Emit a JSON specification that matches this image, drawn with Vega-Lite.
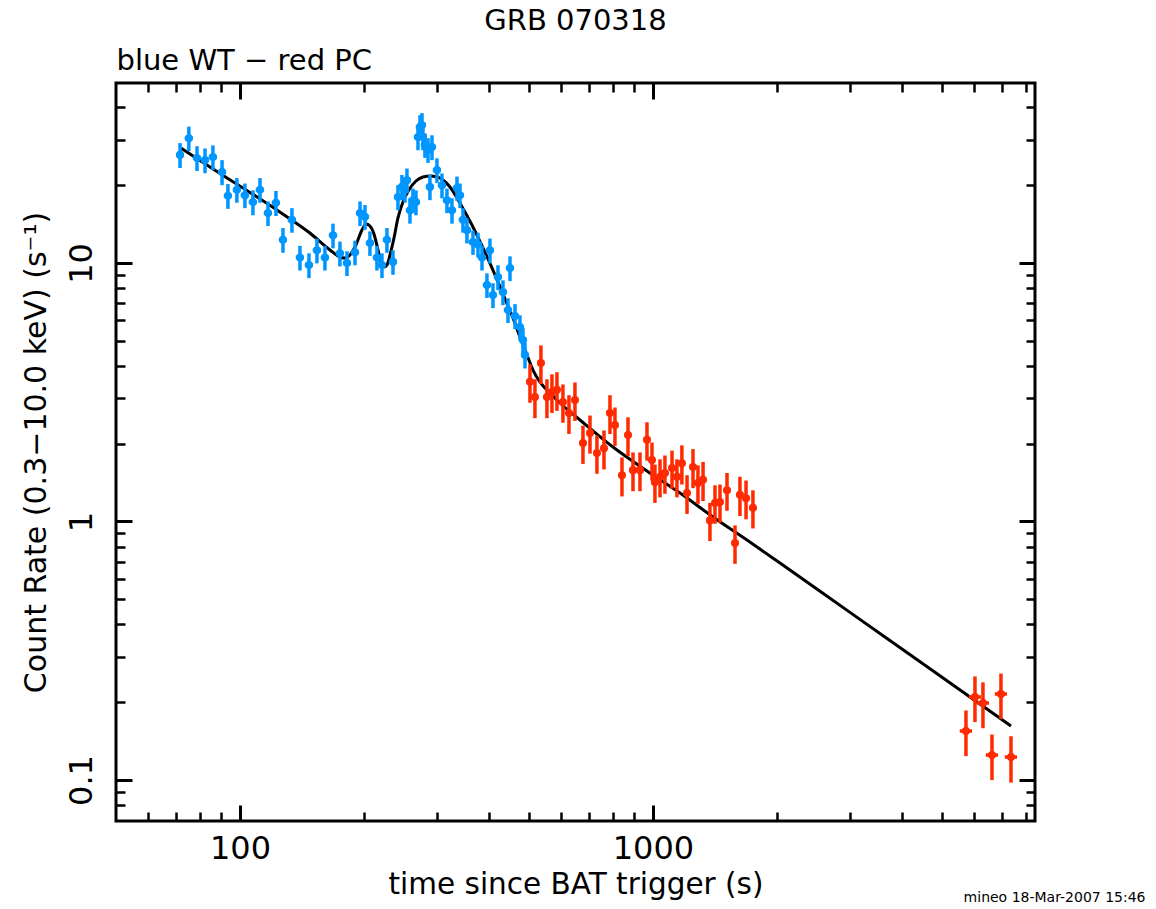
{
  "$schema": "https://vega.github.io/schema/vega-lite/v6.json",
  "width": 919,
  "height": 738,
  "autosize": "none",
  "padding": {"left": 116, "top": 83, "right": 121, "bottom": 88},
  "background": "white",
  "title": {"text": "GRB 070318", "anchor": "middle", "frame": "group", "font": "DejaVu Sans", "fontSize": 29, "fontWeight": "normal", "color": "black", "offset": 10},
  "config": {
    "view": {"stroke": "black", "strokeWidth": 3},
    "axis": {"domain": false, "grid": false, "tickColor": "black", "labelColor": "black", "titleColor": "black", "labelFont": "DejaVu Sans", "titleFont": "DejaVu Sans", "titleFontWeight": "normal", "labelFontSize": 32, "titleFontSize": 30, "labelFlush": false, "labelOverlap": false, "zindex": 1}
  },
  "datasets": {
    "obs": [
      {"mode": "WT", "t": 71.6, "te": 1.6, "r": 26.2, "re": 2.9},
      {"mode": "WT", "t": 75.2, "te": 1.7, "r": 30.4, "re": 3.3},
      {"mode": "WT", "t": 78.7, "te": 1.8, "r": 25.5, "re": 2.8},
      {"mode": "WT", "t": 82.3, "te": 1.9, "r": 25.0, "re": 2.75},
      {"mode": "WT", "t": 86.0, "te": 2.0, "r": 25.7, "re": 2.8},
      {"mode": "WT", "t": 90.5, "te": 2.1, "r": 22.5, "re": 2.5},
      {"mode": "WT", "t": 93.5, "te": 2.1, "r": 18.2, "re": 2.0},
      {"mode": "WT", "t": 98.3, "te": 2.2, "r": 19.2, "re": 2.1},
      {"mode": "WT", "t": 102.8, "te": 2.4, "r": 18.3, "re": 2.0},
      {"mode": "WT", "t": 107.5, "te": 2.5, "r": 17.2, "re": 1.9},
      {"mode": "WT", "t": 111.8, "te": 2.6, "r": 19.2, "re": 2.1},
      {"mode": "WT", "t": 116.9, "te": 2.7, "r": 15.6, "re": 1.7},
      {"mode": "WT", "t": 122.2, "te": 2.8, "r": 17.1, "re": 1.9},
      {"mode": "WT", "t": 127.1, "te": 2.9, "r": 12.3, "re": 1.35},
      {"mode": "WT", "t": 133.6, "te": 3.1, "r": 14.7, "re": 1.6},
      {"mode": "WT", "t": 139.7, "te": 3.2, "r": 10.5, "re": 1.15},
      {"mode": "WT", "t": 146.9, "te": 3.4, "r": 9.82, "re": 1.08},
      {"mode": "WT", "t": 153.6, "te": 3.5, "r": 11.2, "re": 1.23},
      {"mode": "WT", "t": 160.6, "te": 3.7, "r": 10.5, "re": 1.15},
      {"mode": "WT", "t": 168.0, "te": 3.9, "r": 12.8, "re": 1.4},
      {"mode": "WT", "t": 174.6, "te": 4.0, "r": 10.9, "re": 1.2},
      {"mode": "WT", "t": 181.6, "te": 4.2, "r": 10.0, "re": 1.1},
      {"mode": "WT", "t": 189.9, "te": 4.4, "r": 11.0, "re": 1.2},
      {"mode": "WT", "t": 195.3, "te": 4.5, "r": 15.6, "re": 1.7},
      {"mode": "WT", "t": 200.8, "te": 4.6, "r": 15.1, "re": 1.66},
      {"mode": "WT", "t": 206.4, "te": 4.7, "r": 11.95, "re": 1.3},
      {"mode": "WT", "t": 214.6, "te": 4.9, "r": 10.5, "re": 1.15},
      {"mode": "WT", "t": 220.7, "te": 5.1, "r": 9.82, "re": 1.08},
      {"mode": "WT", "t": 226.9, "te": 5.2, "r": 12.3, "re": 1.35},
      {"mode": "WT", "t": 234.7, "te": 5.4, "r": 10.1, "re": 1.1},
      {"mode": "WT", "t": 241.3, "te": 5.5, "r": 18.0, "re": 2.0},
      {"mode": "WT", "t": 246.7, "te": 5.7, "r": 19.7, "re": 2.2},
      {"mode": "WT", "t": 250.9, "te": 5.8, "r": 19.2, "re": 2.1},
      {"mode": "WT", "t": 253.7, "te": 5.8, "r": 20.9, "re": 2.3},
      {"mode": "WT", "t": 258.0, "te": 5.9, "r": 16.0, "re": 1.8},
      {"mode": "WT", "t": 262.3, "te": 6.0, "r": 17.5, "re": 1.9},
      {"mode": "WT", "t": 266.8, "te": 6.1, "r": 17.2, "re": 1.9},
      {"mode": "WT", "t": 269.8, "te": 6.2, "r": 30.7, "re": 3.4},
      {"mode": "WT", "t": 272.8, "te": 6.3, "r": 33.6, "re": 3.7},
      {"mode": "WT", "t": 275.9, "te": 6.3, "r": 34.2, "re": 3.8},
      {"mode": "WT", "t": 277.4, "te": 6.4, "r": 30.7, "re": 3.4},
      {"mode": "WT", "t": 280.5, "te": 6.5, "r": 28.6, "re": 3.1},
      {"mode": "WT", "t": 285.3, "te": 6.6, "r": 27.4, "re": 3.0},
      {"mode": "WT", "t": 288.4, "te": 6.6, "r": 19.7, "re": 2.2},
      {"mode": "WT", "t": 291.7, "te": 6.7, "r": 28.1, "re": 3.1},
      {"mode": "WT", "t": 299.9, "te": 6.9, "r": 22.9, "re": 2.5},
      {"mode": "WT", "t": 308.4, "te": 7.1, "r": 20.0, "re": 2.2},
      {"mode": "WT", "t": 317.1, "te": 7.3, "r": 17.5, "re": 1.9},
      {"mode": "WT", "t": 326.1, "te": 7.5, "r": 16.0, "re": 1.8},
      {"mode": "WT", "t": 335.3, "te": 7.7, "r": 19.5, "re": 2.1},
      {"mode": "WT", "t": 341.0, "te": 7.8, "r": 18.3, "re": 2.0},
      {"mode": "WT", "t": 346.7, "te": 8.0, "r": 14.7, "re": 1.6},
      {"mode": "WT", "t": 354.5, "te": 8.2, "r": 13.4, "re": 1.5},
      {"mode": "WT", "t": 366.6, "te": 8.4, "r": 12.05, "re": 1.3},
      {"mode": "WT", "t": 377.0, "te": 8.7, "r": 11.8, "re": 1.3},
      {"mode": "WT", "t": 385.5, "te": 8.9, "r": 10.5, "re": 1.15},
      {"mode": "WT", "t": 396.3, "te": 9.1, "r": 8.22, "re": 0.9},
      {"mode": "WT", "t": 403.0, "te": 9.3, "r": 11.2, "re": 1.23},
      {"mode": "WT", "t": 409.8, "te": 9.4, "r": 7.52, "re": 0.83},
      {"mode": "WT", "t": 421.4, "te": 9.7, "r": 8.83, "re": 0.97},
      {"mode": "WT", "t": 433.3, "te": 10.0, "r": 7.72, "re": 0.85},
      {"mode": "WT", "t": 445.6, "te": 10.2, "r": 6.58, "re": 0.72},
      {"mode": "WT", "t": 450.6, "te": 10.4, "r": 9.56, "re": 1.05},
      {"mode": "WT", "t": 463.4, "te": 10.7, "r": 6.24, "re": 0.69},
      {"mode": "WT", "t": 476.4, "te": 11.0, "r": 5.65, "re": 0.62},
      {"mode": "WT", "t": 484.4, "te": 11.1, "r": 5.04, "re": 0.55},
      {"mode": "WT", "t": 490.0, "te": 11.2, "r": 4.41, "re": 0.5},
      {"mode": "PC", "t": 503.7, "te": 8.6, "r": 3.47, "re": 0.59},
      {"mode": "PC", "t": 517.9, "te": 8.8, "r": 3.03, "re": 0.52},
      {"mode": "PC", "t": 535.5, "te": 9.1, "r": 4.10, "re": 0.70},
      {"mode": "PC", "t": 553.7, "te": 9.4, "r": 3.03, "re": 0.52},
      {"mode": "PC", "t": 569.4, "te": 9.7, "r": 3.17, "re": 0.54},
      {"mode": "PC", "t": 585.5, "te": 10.0, "r": 3.23, "re": 0.55},
      {"mode": "PC", "t": 605.3, "te": 10.3, "r": 2.90, "re": 0.49},
      {"mode": "PC", "t": 626.0, "te": 10.6, "r": 2.63, "re": 0.45},
      {"mode": "PC", "t": 647.3, "te": 11.0, "r": 2.95, "re": 0.50},
      {"mode": "PC", "t": 676.9, "te": 11.5, "r": 2.01, "re": 0.34},
      {"mode": "PC", "t": 703.9, "te": 12.0, "r": 2.20, "re": 0.37},
      {"mode": "PC", "t": 731.7, "te": 12.4, "r": 1.84, "re": 0.31},
      {"mode": "PC", "t": 761.0, "te": 12.9, "r": 1.92, "re": 0.33},
      {"mode": "PC", "t": 786.8, "te": 13.4, "r": 2.63, "re": 0.45},
      {"mode": "PC", "t": 809.1, "te": 13.8, "r": 2.36, "re": 0.40},
      {"mode": "PC", "t": 841.3, "te": 14.3, "r": 1.51, "re": 0.26},
      {"mode": "PC", "t": 870.0, "te": 14.8, "r": 2.16, "re": 0.37},
      {"mode": "PC", "t": 894.6, "te": 15.2, "r": 1.58, "re": 0.27},
      {"mode": "PC", "t": 930.1, "te": 15.8, "r": 1.58, "re": 0.27},
      {"mode": "PC", "t": 967.2, "te": 16.4, "r": 2.07, "re": 0.35},
      {"mode": "PC", "t": 994.5, "te": 16.9, "r": 1.73, "re": 0.29},
      {"mode": "PC", "t": 1011, "te": 17.2, "r": 1.42, "re": 0.24},
      {"mode": "PC", "t": 1040, "te": 17.7, "r": 1.49, "re": 0.25},
      {"mode": "PC", "t": 1069, "te": 18.2, "r": 1.54, "re": 0.26},
      {"mode": "PC", "t": 1112, "te": 18.9, "r": 1.61, "re": 0.27},
      {"mode": "PC", "t": 1143, "te": 19.4, "r": 1.49, "re": 0.25},
      {"mode": "PC", "t": 1175, "te": 20.0, "r": 1.68, "re": 0.29},
      {"mode": "PC", "t": 1209, "te": 20.6, "r": 1.29, "re": 0.22},
      {"mode": "PC", "t": 1250, "te": 21.3, "r": 1.625, "re": 0.28},
      {"mode": "PC", "t": 1285, "te": 21.8, "r": 1.41, "re": 0.24},
      {"mode": "PC", "t": 1322, "te": 22.5, "r": 1.45, "re": 0.25},
      {"mode": "PC", "t": 1374, "te": 23.4, "r": 1.01, "re": 0.17},
      {"mode": "PC", "t": 1413, "te": 24.0, "r": 1.18, "re": 0.20},
      {"mode": "PC", "t": 1453, "te": 24.7, "r": 1.19, "re": 0.20},
      {"mode": "PC", "t": 1511, "te": 25.7, "r": 1.32, "re": 0.22},
      {"mode": "PC", "t": 1580, "te": 26.9, "r": 0.826, "re": 0.14},
      {"mode": "PC", "t": 1624, "te": 27.6, "r": 1.27, "re": 0.22},
      {"mode": "PC", "t": 1680, "te": 28.6, "r": 1.23, "re": 0.21},
      {"mode": "PC", "t": 1746, "te": 29.7, "r": 1.13, "re": 0.19},
      {"mode": "PC", "t": 5726, "te": 195, "r": 0.1547, "re": 0.031},
      {"mode": "PC", "t": 6021, "te": 205, "r": 0.2095, "re": 0.042},
      {"mode": "PC", "t": 6295, "te": 214, "r": 0.1986, "re": 0.040},
      {"mode": "PC", "t": 6620, "te": 225, "r": 0.1249, "re": 0.025},
      {"mode": "PC", "t": 6960, "te": 237, "r": 0.2151, "re": 0.043},
      {"mode": "PC", "t": 7360, "te": 250, "r": 0.1227, "re": 0.025}
    ],
    "model": [
      {"t": 71.96, "r": 27.86}, {"t": 84.6, "r": 23.5}, {"t": 101.7, "r": 19.5}, {"t": 122.9, "r": 16.03},
      {"t": 147.7, "r": 13.06}, {"t": 165.2, "r": 11.23}, {"t": 174.6, "r": 10.55}, {"t": 179.6, "r": 10.45},
      {"t": 184.6, "r": 10.74}, {"t": 190.9, "r": 11.74}, {"t": 197.4, "r": 13.42}, {"t": 201.9, "r": 14.16},
      {"t": 206.4, "r": 13.91}, {"t": 211.1, "r": 12.95}, {"t": 215.9, "r": 11.23}, {"t": 219.5, "r": 10.09},
      {"t": 223.2, "r": 9.65}, {"t": 226.9, "r": 9.82}, {"t": 230.8, "r": 10.74}, {"t": 236.0, "r": 12.49},
      {"t": 241.3, "r": 14.94}, {"t": 248.1, "r": 17.22}, {"t": 256.6, "r": 19.2}, {"t": 266.8, "r": 20.76},
      {"t": 277.4, "r": 21.51}, {"t": 288.4, "r": 21.7}, {"t": 299.9, "r": 21.51}, {"t": 310.1, "r": 20.95},
      {"t": 322.5, "r": 19.68}, {"t": 335.3, "r": 17.85}, {"t": 350.6, "r": 15.75}, {"t": 366.6, "r": 13.78},
      {"t": 387.6, "r": 11.43}, {"t": 409.8, "r": 9.39}, {"t": 433.3, "r": 7.59}, {"t": 458.1, "r": 6.13},
      {"t": 476.4, "r": 5.17}, {"t": 495.3, "r": 4.41}, {"t": 512.2, "r": 3.855}, {"t": 532.5, "r": 3.466},
      {"t": 563.1, "r": 3.14}, {"t": 595.5, "r": 2.873}, {"t": 665.8, "r": 2.47}, {"t": 800.0, "r": 1.942},
      {"t": 967.2, "r": 1.568}, {"t": 1163, "r": 1.289}, {"t": 1398, "r": 1.041}, {"t": 1689, "r": 0.848},
      {"t": 2030, "r": 0.6909}, {"t": 2999, "r": 0.445}, {"t": 4686, "r": 0.2692}, {"t": 7360, "r": 0.1618}
    ]
  },
  "layer": [
    {
      "data": {"name": "model"},
      "mark": {"type": "line", "color": "black", "strokeWidth": 3, "interpolate": "monotone"},
      "encoding": {
        "x": {"field": "t", "type": "quantitative", "scale": {"type": "log", "domain": [50.1, 8414], "nice": false, "zero": false},
              "axis": {"orient": "bottom", "values": [100, 1000], "format": "~g", "ticks": false, "tickSize": 0, "labelPadding": 12, "title": "time since BAT trigger (s)", "titlePadding": 6, "titleFontSize": 29.5}},
        "y": {"field": "r", "type": "quantitative", "scale": {"type": "log", "domain": [0.0694, 49.7], "nice": false, "zero": false},
              "axis": {"orient": "left", "values": [0.1, 1, 10], "format": "~g", "ticks": false, "tickSize": 0, "labelAngle": -90, "labelAlign": "center", "labelBaseline": "bottom", "labelPadding": 18, "title": "Count Rate (0.3−10.0 keV) (s⁻¹)", "titlePadding": 14}}
      }
    },
    {
      "data": {"name": "obs"},
      "mark": {"type": "errorbar", "thickness": 3.5},
      "encoding": {
        "x": {"field": "t", "type": "quantitative", "scale": {"type": "log", "domain": [50.1, 8414], "nice": false, "zero": false},
              "axis": {"orient": "bottom", "values": [100, 1000], "labels": false, "tickSize": -16, "tickWidth": 3, "title": null}},
        "xError": {"field": "te"},
        "y": {"field": "r", "type": "quantitative", "scale": {"type": "log", "domain": [0.0694, 49.7], "nice": false, "zero": false},
              "axis": {"orient": "left", "values": [0.1, 1, 10], "labels": false, "tickSize": -16, "tickWidth": 3, "title": null}},
        "color": {"field": "mode", "type": "nominal", "scale": {"domain": ["WT", "PC"], "range": ["#0096ff", "#ff2a00"]}, "legend": null}
      }
    },
    {
      "data": {"name": "obs"},
      "mark": {"type": "errorbar", "thickness": 3.5},
      "encoding": {
        "x": {"field": "t", "type": "quantitative", "scale": {"type": "log", "domain": [50.1, 8414], "nice": false, "zero": false},
              "axis": {"orient": "bottom", "values": [60, 70, 80, 90, 200, 300, 400, 500, 600, 700, 800, 900, 2000, 3000, 4000, 5000, 6000, 7000, 8000], "labels": false, "tickSize": -9, "tickWidth": 2.5,
                       "title": "mineo 18-Mar-2007 15:46", "titleFontSize": 14, "titleX": 1029, "titleY": 76, "titleAlign": "right", "titleBaseline": "middle"}},
        "y": {"field": "r", "type": "quantitative", "scale": {"type": "log", "domain": [0.0694, 49.7], "nice": false, "zero": false},
              "axis": {"orient": "left", "values": [0.08, 0.09, 0.2, 0.3, 0.4, 0.5, 0.6, 0.7, 0.8, 0.9, 2, 3, 4, 5, 6, 7, 8, 9, 20, 30, 40], "labels": false, "tickSize": -9, "tickWidth": 2.5, "title": null}},
        "yError": {"field": "re"},
        "color": {"field": "mode", "type": "nominal", "scale": {"domain": ["WT", "PC"], "range": ["#0096ff", "#ff2a00"]}, "legend": null}
      }
    },
    {
      "data": {"name": "obs"},
      "transform": [{"filter": "datum.mode === 'WT'"}],
      "mark": {"type": "point", "filled": true, "shape": "circle", "size": 65, "color": "#0096ff", "opacity": 1},
      "encoding": {
        "x": {"field": "t", "type": "quantitative", "scale": {"type": "log", "domain": [50.1, 8414], "nice": false, "zero": false},
              "axis": {"orient": "top", "values": [100, 1000], "labels": false, "tickSize": -16, "tickWidth": 3,
                       "title": "blue WT − red PC", "titleFontSize": 29, "titleX": 0, "titleY": -23, "titleAlign": "left", "titleBaseline": "middle"}},
        "y": {"field": "r", "type": "quantitative", "scale": {"type": "log", "domain": [0.0694, 49.7], "nice": false, "zero": false},
              "axis": {"orient": "right", "values": [0.1, 1, 10], "labels": false, "tickSize": -16, "tickWidth": 3, "title": null}}
      }
    },
    {
      "data": {"name": "obs"},
      "transform": [{"filter": "datum.mode === 'PC'"}],
      "mark": {"type": "point", "filled": true, "shape": "circle", "size": 65, "color": "#ff2a00", "opacity": 1},
      "encoding": {
        "x": {"field": "t", "type": "quantitative", "scale": {"type": "log", "domain": [50.1, 8414], "nice": false, "zero": false},
              "axis": {"orient": "top", "values": [60, 70, 80, 90, 200, 300, 400, 500, 600, 700, 800, 900, 2000, 3000, 4000, 5000, 6000, 7000, 8000], "labels": false, "tickSize": -9, "tickWidth": 2.5, "title": null}},
        "y": {"field": "r", "type": "quantitative", "scale": {"type": "log", "domain": [0.0694, 49.7], "nice": false, "zero": false},
              "axis": {"orient": "right", "values": [0.08, 0.09, 0.2, 0.3, 0.4, 0.5, 0.6, 0.7, 0.8, 0.9, 2, 3, 4, 5, 6, 7, 8, 9, 20, 30, 40], "labels": false, "tickSize": -9, "tickWidth": 2.5, "title": null}}
      }
    }
  ],
  "resolve": {"axis": {"x": "independent", "y": "independent"}}
}
